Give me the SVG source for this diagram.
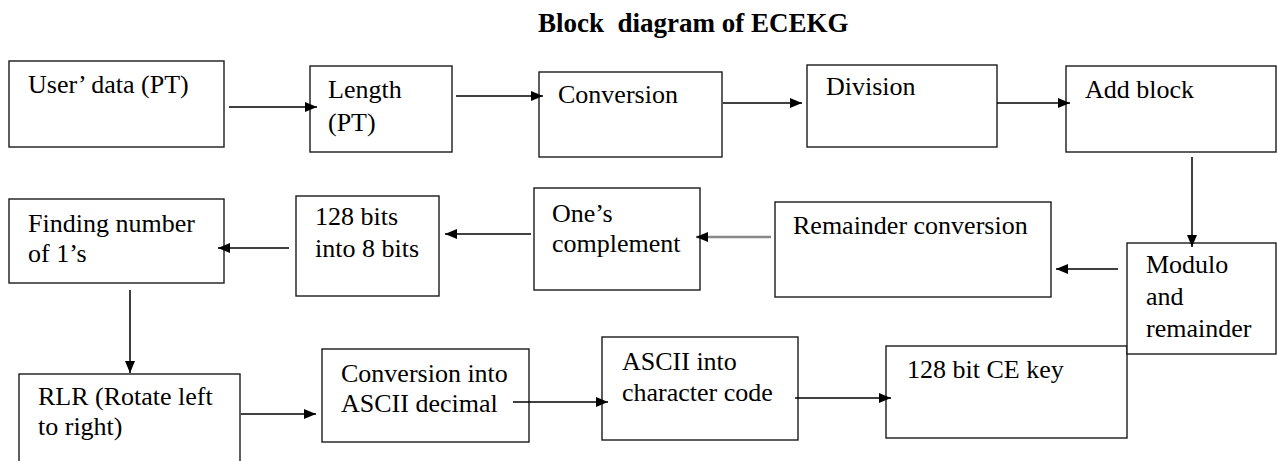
<svg xmlns="http://www.w3.org/2000/svg" width="1277" height="461" viewBox="0 0 1277 461">
<defs>
<style>
.box{fill:#fff;stroke:#1a1a1a;stroke-width:1.4}
.t{font-family:"Liberation Serif","Times New Roman",serif;font-size:26px;fill:#000}
.title{font-family:"Liberation Serif","Times New Roman",serif;font-size:27px;font-weight:bold;fill:#000;white-space:pre}
.c{fill:none;stroke:#000;stroke-width:1.5;marker-end:url(#ah)}
.g{fill:none;stroke:#888;stroke-width:2.5;marker-end:url(#ah)}
</style>
<marker id="ah" markerUnits="userSpaceOnUse" markerWidth="12" markerHeight="10" refX="12" refY="5" orient="auto">
<path d="M0,0 L12,5 L0,10 z" fill="#000"/>
</marker>
</defs>
<rect width="1277" height="461" fill="#fff"/>
<text class="title" x="538" y="32" xml:space="preserve">Block  diagram of ECEKG</text>

<g id="n-user"><rect class="box" x="9" y="61" width="215" height="86"/><text class="t" x="28" y="93">User’ data (PT)</text></g>
<g id="n-length"><rect class="box" x="310" y="66" width="142" height="86"/><text class="t" x="328" y="98">Length</text><text class="t" x="328" y="131">(PT)</text></g>
<g id="n-conversion"><rect class="box" x="539" y="72" width="183" height="85"/><text class="t" x="558" y="103">Conversion</text></g>
<g id="n-division"><rect class="box" x="807" y="65" width="190" height="82"/><text class="t" x="826" y="95">Division</text></g>
<g id="n-add"><rect class="box" x="1066" y="66" width="210" height="86"/><text class="t" x="1085" y="98">Add block</text></g>
<g id="n-cekey"><rect class="box" x="886" y="346" width="241" height="92"/><text class="t" x="907" y="378">128 bit CE key</text></g>
<g id="n-modulo"><rect class="box" x="1127" y="243" width="149" height="111"/><text class="t" x="1146" y="273">Modulo</text><text class="t" x="1146" y="305">and</text><text class="t" x="1146" y="337">remainder</text></g>
<g id="n-remainder"><rect class="box" x="775" y="202" width="276" height="95"/><text class="t" x="793" y="234">Remainder conversion</text></g>
<g id="n-ones"><rect class="box" x="534" y="188" width="166" height="102"/><text class="t" x="552" y="222">One’s</text><text class="t" x="552" y="252">complement</text></g>
<g id="n-bits"><rect class="box" x="296" y="196" width="143" height="100"/><text class="t" x="315" y="225">128 bits</text><text class="t" x="315" y="257">into 8 bits</text></g>
<g id="n-finding"><rect class="box" x="9" y="199" width="215" height="84"/><text class="t" x="28" y="232">Finding number</text><text class="t" x="28" y="262">of 1’s</text></g>
<g id="n-rlr"><rect class="box" x="19" y="374" width="221" height="100"/><text class="t" x="38" y="405">RLR (Rotate left</text><text class="t" x="38" y="435">to right)</text></g>
<g id="n-asciidec"><rect class="box" x="322" y="349" width="207" height="93"/><text class="t" x="341" y="382">Conversion into</text><text class="t" x="341" y="412">ASCII decimal</text></g>
<g id="n-asciichar"><rect class="box" x="602" y="337" width="196" height="103"/><text class="t" x="622" y="370">ASCII into</text><text class="t" x="622" y="401">character code</text></g>

<g id="connectors">
<line class="c" x1="229" y1="107" x2="317" y2="107"/>
<line class="c" x1="456" y1="96" x2="543" y2="96"/>
<line class="c" x1="723" y1="103" x2="802" y2="103"/>
<line class="c" x1="997" y1="103" x2="1070" y2="103"/>
<line class="c" x1="1192" y1="157" x2="1192" y2="247"/>
<line class="c" x1="1118" y1="269" x2="1056" y2="269"/>
<line class="g" x1="771" y1="237" x2="696" y2="237"/>
<line class="c" x1="531" y1="234" x2="445" y2="234"/>
<line class="c" x1="289" y1="248" x2="218" y2="248"/>
<line class="c" x1="130" y1="290" x2="130" y2="373"/>
<line class="c" x1="241" y1="414" x2="316" y2="414"/>
<line class="c" x1="513" y1="402" x2="608" y2="402"/>
<line class="c" x1="795" y1="398" x2="891" y2="398"/>
</g>
</svg>
